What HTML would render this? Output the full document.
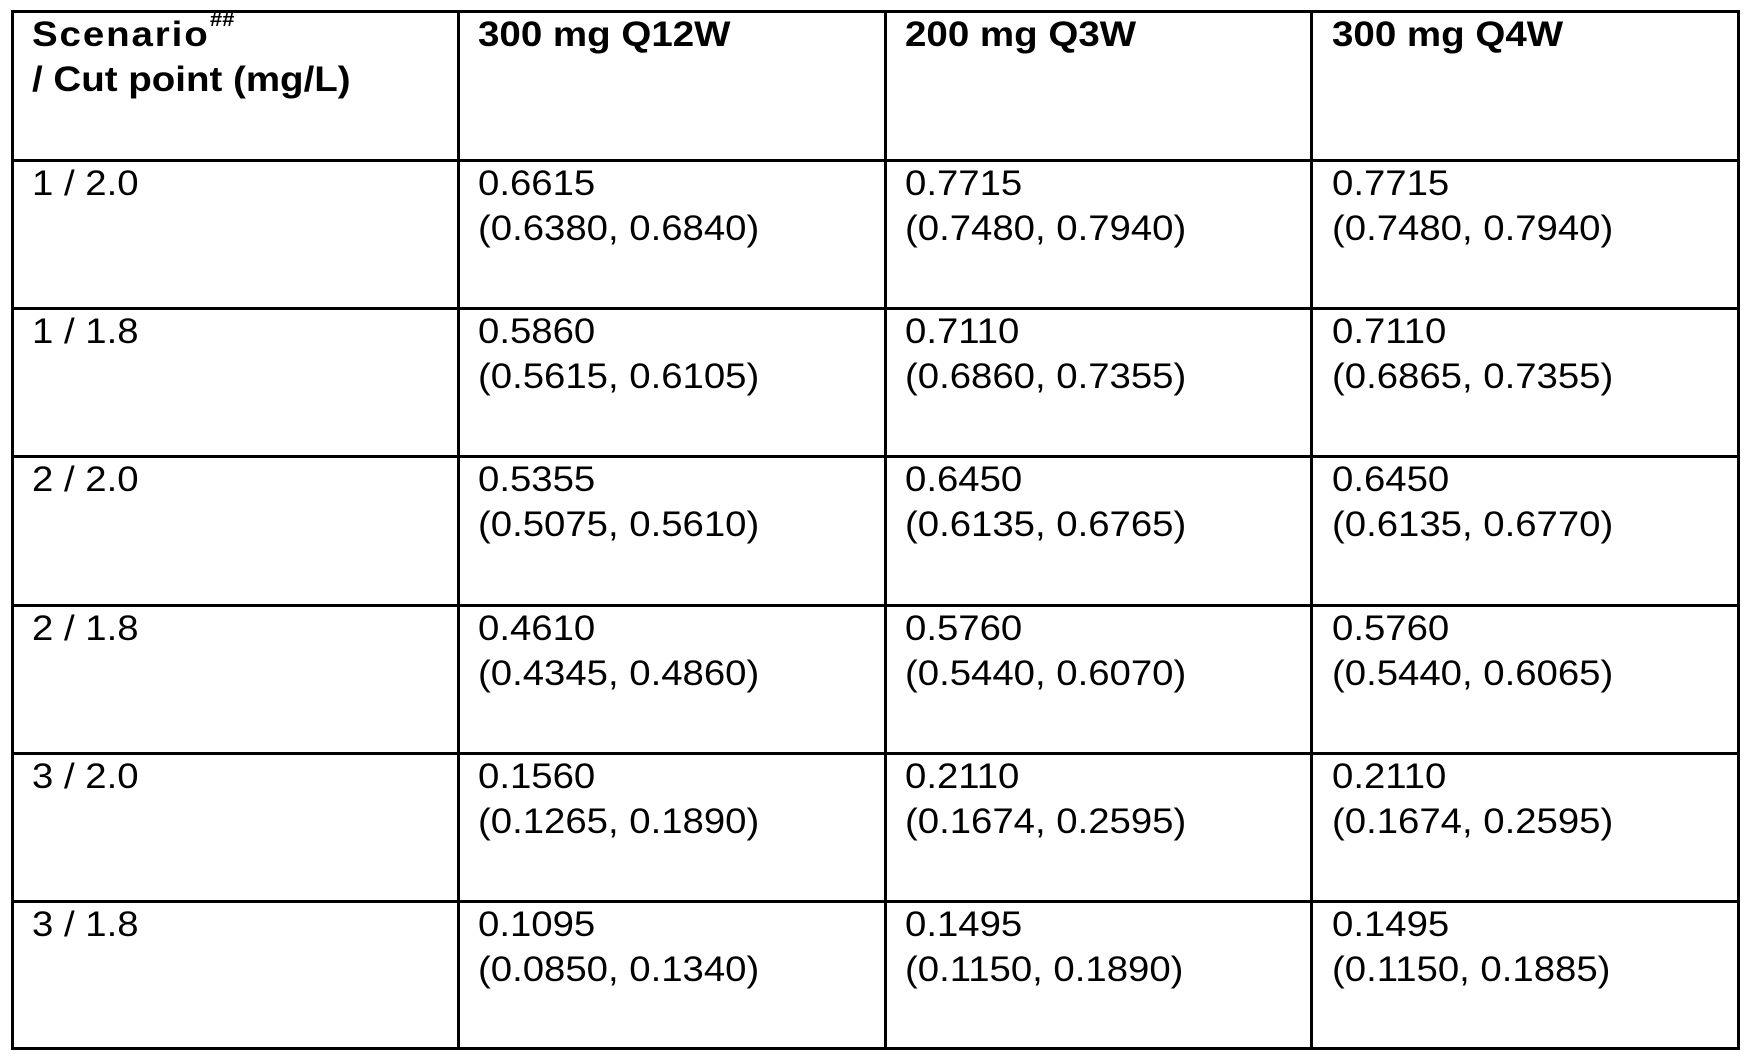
<!DOCTYPE html>
<html>
<head>
<meta charset="utf-8">
<style>
  html, body { margin:0; padding:0; background:#fff; }
  body { width:1751px; height:1062px; position:relative; overflow:hidden;
         font-family:"Liberation Sans", Arial, sans-serif; color:#000; }
  .h { position:absolute; left:10.5px; width:1729px; height:3px; background:#000; }
  .v { position:absolute; top:10px; height:1039.5px; width:3px; background:#000; }
  .t { position:absolute; font-size:35px; line-height:45px; white-space:nowrap;
       transform:scaleX(1.095); transform-origin:0 0; }
  .b { font-weight:bold; transform:scaleX(1.1); }
  .sc { letter-spacing:1.7px; }
  sup { font-size:20px; font-style:italic; font-weight:bold; vertical-align:top; position:relative; top:-2px; line-height:20px; letter-spacing:0; }
</style>
</head>
<body>
<!-- horizontal lines -->
<div class="h" style="top:10px"></div>
<div class="h" style="top:158.5px"></div>
<div class="h" style="top:306.5px"></div>
<div class="h" style="top:454.5px"></div>
<div class="h" style="top:603.5px"></div>
<div class="h" style="top:752px"></div>
<div class="h" style="top:900px"></div>
<div class="h" style="top:1046.5px"></div>
<!-- vertical lines -->
<div class="v" style="left:10.5px"></div>
<div class="v" style="left:456.5px"></div>
<div class="v" style="left:883.5px"></div>
<div class="v" style="left:1310px"></div>
<div class="v" style="left:1736.5px"></div>

<!-- header -->
<div class="t b" style="left:32px;top:12px"><span class="sc">Scenario</span><sup>##</sup><br>/ Cut point (mg/L)</div>
<div class="t b" style="left:478px;top:12px">300 mg Q12W</div>
<div class="t b" style="left:905px;top:12px">200 mg Q3W</div>
<div class="t b" style="left:1331.5px;top:12px">300 mg Q4W</div>

<!-- row 1 -->
<div class="t" style="left:32px;top:160.5px">1 / 2.0</div>
<div class="t" style="left:478px;top:160.5px">0.6615<br>(0.6380, 0.6840)</div>
<div class="t" style="left:905px;top:160.5px">0.7715<br>(0.7480, 0.7940)</div>
<div class="t" style="left:1331.5px;top:160.5px">0.7715<br>(0.7480, 0.7940)</div>

<!-- row 2 -->
<div class="t" style="left:32px;top:308.5px">1 / 1.8</div>
<div class="t" style="left:478px;top:308.5px">0.5860<br>(0.5615, 0.6105)</div>
<div class="t" style="left:905px;top:308.5px">0.7110<br>(0.6860, 0.7355)</div>
<div class="t" style="left:1331.5px;top:308.5px">0.7110<br>(0.6865, 0.7355)</div>

<!-- row 3 -->
<div class="t" style="left:32px;top:456.5px">2 / 2.0</div>
<div class="t" style="left:478px;top:456.5px">0.5355<br>(0.5075, 0.5610)</div>
<div class="t" style="left:905px;top:456.5px">0.6450<br>(0.6135, 0.6765)</div>
<div class="t" style="left:1331.5px;top:456.5px">0.6450<br>(0.6135, 0.6770)</div>

<!-- row 4 -->
<div class="t" style="left:32px;top:605.5px">2 / 1.8</div>
<div class="t" style="left:478px;top:605.5px">0.4610<br>(0.4345, 0.4860)</div>
<div class="t" style="left:905px;top:605.5px">0.5760<br>(0.5440, 0.6070)</div>
<div class="t" style="left:1331.5px;top:605.5px">0.5760<br>(0.5440, 0.6065)</div>

<!-- row 5 -->
<div class="t" style="left:32px;top:754px">3 / 2.0</div>
<div class="t" style="left:478px;top:754px">0.1560<br>(0.1265, 0.1890)</div>
<div class="t" style="left:905px;top:754px">0.2110<br>(0.1674, 0.2595)</div>
<div class="t" style="left:1331.5px;top:754px">0.2110<br>(0.1674, 0.2595)</div>

<!-- row 6 -->
<div class="t" style="left:32px;top:902px">3 / 1.8</div>
<div class="t" style="left:478px;top:902px">0.1095<br>(0.0850, 0.1340)</div>
<div class="t" style="left:905px;top:902px">0.1495<br>(0.1150, 0.1890)</div>
<div class="t" style="left:1331.5px;top:902px">0.1495<br>(0.1150, 0.1885)</div>
</body>
</html>
